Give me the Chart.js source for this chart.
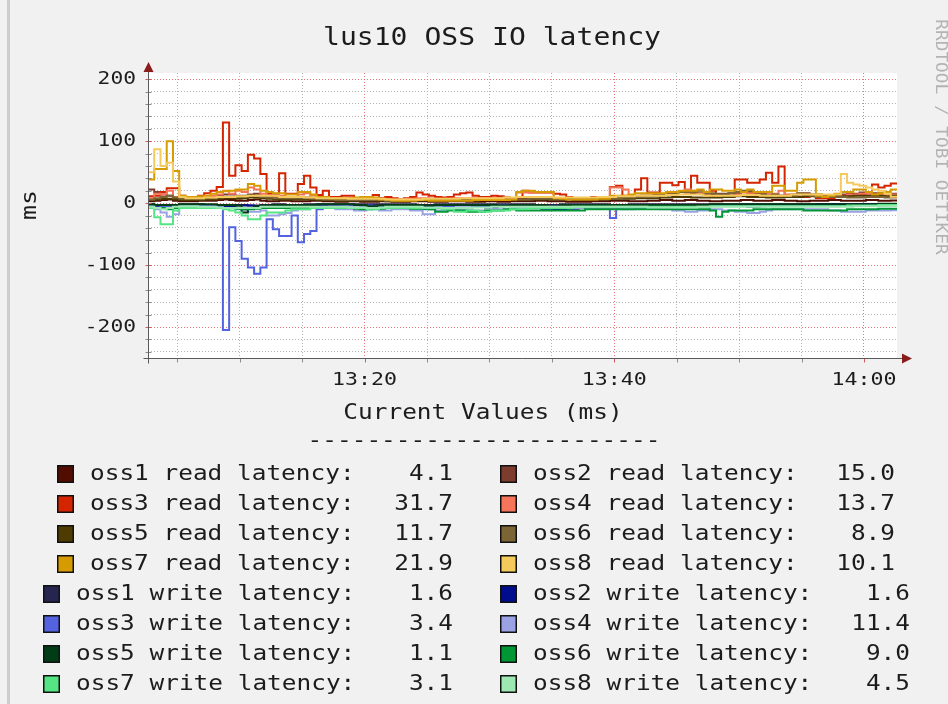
<!DOCTYPE html>
<html>
<head>
<meta charset="utf-8">
<title>lus10 OSS IO latency</title>
<script src="https://cdn.jsdelivr.net/npm/chart.js@4.4.1/dist/chart.umd.min.js"></script>
<style>
  html, body { margin: 0; padding: 0; background: #f1f1f1; }
  canvas { display: block; }
</style>
</head>
<body>
<canvas id="chart" width="948" height="704"></canvas>
<script>
// time axis: minutes after 13:00, one sample every 30 s
const startMinute = 2.65;
const stepMinute = 0.5;
const sampleCount = 120;
const xMin = 2.65;
const xMax = 62.65;
const yMin = -250;
const yMax = 210;

const xMinorMinutes = [5, 10, 15, 20, 25, 30, 35, 40, 45, 50, 55, 60];
const xMajorMinutes = [20, 40, 60];
const xTickLabels = ["13:20", "13:40", "14:00"];
const yMajorValues = [-200, -100, 0, 100, 200];
const yTickLabels = ["-200", "-100", "0", "100", "200"];
const yMinorStep = 20;

// read latencies (ms), plotted above zero
const oss1Read = [3,4,5,6,4,3,3,3,4,4, 4,5,6,5,4,4,5,6,4,3, 3,4,4,3,3,3,4,4,3,3, 2,2,3,3,2,2,2,3,3,2,
  2,2,3,3,3,2,2,2,3,3, 3,2,2,2,3,3,2,2,3,3, 3,3,4,4,3,3,3,2,2,2, 2,3,3,3,4,4,4,3,3,3,
  4,4,5,5,4,4,5,5,4,4, 3,3,4,4,4,5,5,4,4,4, 5,5,4,4,3,3,4,4,4,5, 5,4,4,4,4,5,5,4,4,4.1];
const oss2Read = [22,18,14,12,8,6,6,7,8,9, 10,12,14,14,12,12,14,15,12,10, 9,9,10,10,10,9,8,7,7,6, 6,6,6,7,7,6,6,6,5,5,
  5,5,6,6,6,7,7,6,6,6, 6,7,7,6,6,6,7,7,8,8, 8,8,8,9,9,8,8,8,7,7, 7,8,8,9,10,10,10,10,12,12,
  12,14,14,16,16,18,18,16,16,14, 14,15,15,16,16,18,18,16,16,14, 14,12,12,14,14,16,14,14,13,13, 14,14,15,15,17,17,16,16,15,15.0];
const oss3Read = [11,12,18,24,24,12,10,10,12,16, 20,26,130,44,61,52,78,72,47,15, 15,48,15,15,31,44,25,13,20,10, 10,12,12,7,7,7,13,8,10,8,
  6,8,10,17,14,12,10,9,10,14, 16,17,12,10,10,12,11,9,8,6, 20,17,17,17,17,15,14,10,8,8, 8,10,10,8,26,28,12,12,22,40,
  17,17,33,33,29,34,17,44,33,33, 20,10,12,12,38,38,33,33,38,49, 33,59,12,12,10,10,12,8,8,8, 11,12,12,14,14,16,30,25,28,31.7];
const oss4Read = [8,15,14,20,10,8,8,8,9,10, 12,14,20,15,20,18,25,22,15,12, 10,12,10,10,14,16,12,9,9,8, 7,7,7,6,6,6,6,6,6,6,
  6,7,7,8,8,7,7,7,7,8, 8,8,8,8,8,8,8,8,8,17, 17,17,17,17,17,8,8,7,7,7, 8,8,8,8,25,25,22,10,10,12,
  12,12,14,14,18,18,22,20,15,15, 10,10,12,12,14,14,16,14,14,14, 15,20,14,14,16,14,12,10,10,10, 12,12,14,14,15,15,14,14,14,13.7];
const oss5Read = [5,6,7,7,6,5,5,5,5,6, 6,7,8,8,7,8,9,9,8,7, 6,6,6,6,6,6,6,5,5,5, 4,4,4,4,4,4,4,4,3,3,
  3,3,4,4,4,4,4,4,4,4, 4,4,4,5,5,5,5,5,5,5, 5,6,6,6,6,6,6,6,5,5, 5,6,6,6,7,7,7,7,8,8,
  8,8,9,9,10,10,10,9,9,9, 9,9,10,10,11,11,10,10,10,9, 9,9,10,10,10,11,11,10,10,10, 11,11,11,12,12,12,12,12,11,11.7];
const oss6Read = [6,8,10,12,9,7,7,7,7,8, 8,9,10,10,10,11,12,12,10,9, 8,8,8,8,8,8,7,7,6,6, 5,5,5,5,5,5,5,5,4,4,
  4,4,5,5,5,5,5,5,5,5, 5,5,5,5,6,6,6,6,6,6, 6,7,7,7,7,7,7,7,6,6, 6,7,7,7,8,8,9,9,10,12,
  12,12,14,14,16,18,18,18,20,16, 16,14,14,16,18,20,20,18,14,12, 14,12,12,12,16,14,12,10,10,10, 10,10,9,9,9,10,10,10,9,8.9];
const oss7Read = [38,55,55,100,52,12,10,10,11,12, 15,18,19,20,22,22,31,28,20,18, 16,16,14,14,18,18,14,10,10,8, 8,8,8,9,10,10,9,6,6,4,
  4,4,4,5,5,4,4,4,4,4, 4,4,5,5,5,5,5,5,6,18, 20,20,18,18,18,8,7,6,6,6, 6,6,7,7,12,12,12,14,16,16,
  16,16,16,18,18,20,20,20,22,18, 22,22,20,20,22,18,22,18,18,18, 28,28,20,20,33,38,38,12,10,12, 15,18,18,22,22,18,14,16,18,21.9];
const oss8Read = [50,87,60,65,35,10,8,8,8,9, 9,10,10,10,11,11,12,12,12,12, 12,10,10,10,10,9,9,8,8,8, 8,8,7,7,7,7,7,7,6,6,
  6,6,6,6,7,7,7,7,7,7, 8,8,8,8,8,8,8,9,9,10, 10,10,10,10,10,9,9,9,9,9, 9,9,10,10,10,11,11,11,12,12,
  12,12,12,13,13,14,14,14,14,12, 12,12,12,12,12,13,13,13,12,12, 12,12,12,14,14,14,14,14,14,14, 14,47,33,30,28,25,22,20,15,10.1];

// write latencies (ms), plotted mirrored below zero
const oss1Write = [2,3,3,4,3,2,2,2,2,3, 3,3,4,4,3,3,4,4,3,3, 2,2,3,3,3,2,2,2,2,2, 2,2,2,2,2,2,2,2,2,2,
  2,2,2,3,3,3,2,2,2,2, 2,2,2,2,2,2,2,2,2,2, 2,2,3,3,3,3,2,2,2,2, 2,2,2,2,3,3,3,2,2,2,
  2,2,2,2,2,2,2,2,2,2, 2,2,2,2,2,2,2,2,2,2, 2,2,2,2,2,2,2,2,2,2, 2,2,2,2,2,2,2,2,2,1.6];
const oss2Write = [4,5,6,5,4,3,3,3,4,4, 4,5,5,5,4,4,4,5,6,6, 5,4,4,4,4,3,3,3,3,3, 3,3,3,3,4,4,6,6,4,4,
  3,3,4,4,5,5,4,4,3,3, 3,3,4,4,7,7,5,4,4,4, 4,5,6,9,9,10,10,9,9,8, 8,6,5,5,4,4,4,4,3,3,
  3,3,4,4,4,3,3,3,3,3, 3,3,3,3,4,4,6,6,5,4, 4,3,3,3,3,3,3,2,2,2, 2,2,2,2,2,2,2,2,2,1.6];
const oss3Write = [3,4,5,5,6,4,3,3,3,4, 5,5,205,39,61,90,104,114,104,26, 42,53,53,20,63,50,45,10,6,5, 5,4,4,4,4,4,5,5,4,4,
  4,4,5,5,10,10,6,5,5,4, 4,4,5,5,5,5,4,4,4,4, 5,5,5,5,5,5,4,4,4,4, 4,4,5,5,24,8,6,6,5,5,
  5,5,5,5,5,5,5,5,5,5, 4,4,4,4,4,4,4,4,4,4, 4,4,4,4,4,4,4,4,4,4, 4,4,4,4,4,4,4,4,4,3.4];
const oss4Write = [8,10,15,22,18,8,6,6,6,7, 7,8,8,8,10,12,14,14,12,20, 20,18,16,12,10,10,8,8,8,8, 10,10,10,12,12,10,10,12,12,10,
  10,10,12,12,18,18,12,12,10,10, 10,10,12,12,12,10,10,10,8,8, 8,8,8,8,8,8,8,8,8,8, 8,8,8,8,8,8,10,10,8,8,
  8,8,10,10,12,12,14,14,12,12, 10,10,12,12,14,14,16,16,14,12, 10,10,10,10,10,10,10,10,10,12, 12,14,14,14,14,12,12,12,12,11.4];
const oss5Write = [2,3,3,3,3,2,2,2,2,2, 2,3,3,3,4,15,8,5,4,4, 3,3,3,3,3,3,3,2,2,2, 2,2,2,3,3,5,5,4,3,3,
  3,3,3,3,4,4,3,3,3,3, 3,3,3,3,3,3,4,4,3,3, 3,3,3,3,5,5,3,3,3,3, 3,3,3,3,3,3,3,3,3,3,
  3,3,3,3,3,3,3,3,3,3, 2,2,2,2,2,2,2,2,2,2, 2,2,2,2,2,2,2,2,2,2, 2,2,2,2,2,2,2,1,1,1.1];
const oss6Write = [6,8,8,10,8,6,6,6,6,7, 7,8,8,8,9,10,10,9,8,8, 8,8,8,8,8,8,7,7,7,7, 8,8,8,9,10,10,9,9,8,8,
  8,8,9,9,9,10,14,14,12,12, 12,14,14,14,12,12,12,10,10,12, 12,12,12,12,12,12,12,12,12,12, 10,10,10,10,10,10,10,10,10,10,
  10,10,10,10,10,10,10,10,10,10, 12,22,14,12,12,12,12,10,10,10, 10,10,10,10,10,12,12,12,12,12, 12,12,10,10,10,10,10,9,9,9.0];
const oss7Write = [8,23,34,34,12,8,8,8,8,8, 8,8,10,12,15,20,26,26,20,15, 15,15,12,10,10,10,8,8,8,8, 8,8,8,8,8,10,10,8,8,8,
  8,8,8,8,8,8,8,10,10,14, 14,12,12,14,14,12,12,12,10,10, 10,8,8,8,8,8,8,8,6,6, 6,6,6,6,6,6,6,6,6,6,
  6,6,6,6,6,6,6,6,6,6, 5,5,5,5,5,5,5,5,5,5, 5,5,5,5,5,5,5,5,5,5, 5,5,4,4,4,4,4,3,3,3.1];
const oss8Write = [6,8,10,8,6,5,5,5,6,6, 6,7,8,8,8,8,8,8,6,6, 6,6,6,6,6,6,6,6,6,6, 6,6,7,7,7,8,8,7,6,6,
  6,6,6,6,7,7,7,8,8,8, 8,8,7,7,7,6,6,6,6,6, 6,6,6,6,6,6,6,6,6,6, 6,6,6,6,6,6,6,6,6,6,
  7,7,7,7,7,7,7,7,6,6, 6,6,6,6,6,6,6,6,6,6, 6,6,6,6,6,6,6,6,6,6, 6,6,6,5,5,5,5,5,5,4.5];

const seriesNames = [
  "oss1 read latency", "oss2 read latency", "oss3 read latency", "oss4 read latency",
  "oss5 read latency", "oss6 read latency", "oss7 read latency", "oss8 read latency",
  "oss1 write latency", "oss2 write latency", "oss3 write latency", "oss4 write latency",
  "oss5 write latency", "oss6 write latency", "oss7 write latency", "oss8 write latency"
];
const seriesValues = [
  oss1Read, oss2Read, oss3Read, oss4Read, oss5Read, oss6Read, oss7Read, oss8Read,
  oss1Write, oss2Write, oss3Write, oss4Write, oss5Write, oss6Write, oss7Write, oss8Write
];
const seriesMirrored = [false, false, false, false, false, false, false, false,
  true, true, true, true, true, true, true, true];
const seriesColors = [
  "#520c00", "#7c3c2e", "#d42400", "#f5745a", "#4e3b00", "#7c6534", "#d69b00", "#f4ca5c",
  "#25254f", "#000c8e", "#5363e0", "#9ba2e4", "#003c16", "#009634", "#55e585", "#9ee6b2"
];
// legend rows: [left column series, right column series]
const legendRows = [[0, 1], [2, 3], [4, 5], [6, 7], [8, 9], [10, 11], [12, 13], [14, 15]];

const times = [];
for (let i = 0; i <= sampleCount; i++) times.push(startMinute + i * stepMinute);

const datasets = seriesValues.map((vals, k) => {
  const plotted = seriesMirrored[k] ? vals.map(v => -v) : vals.slice();
  plotted.push(plotted[plotted.length - 1]);
  return {
    label: seriesNames[k],
    data: plotted,
    borderColor: seriesColors[k],
    borderWidth: 2,
    pointRadius: 0,
    stepped: "before",
    fill: false,
    order: seriesValues.length - k,
  };
});

const FONT = '"DejaVu Sans Mono", "Liberation Mono", monospace';

function drawText(ctx, str, x, y, size, advance, align, color) {
  ctx.save();
  ctx.font = size + "px " + FONT;
  const stretch = advance / ctx.measureText("0").width;
  ctx.translate(x, y);
  ctx.scale(stretch, 1);
  ctx.textAlign = align;
  ctx.textBaseline = "middle";
  ctx.fillStyle = color || "#1c1c1c";
  ctx.fillText(str, 0, 0);
  ctx.restore();
}

const rrdFrame = {
  id: "rrdFrame",
  beforeDraw(chart) {
    const { ctx, chartArea: a } = chart;
    ctx.save();
    ctx.fillStyle = "#f1f1f1";
    ctx.fillRect(0, 0, chart.width, chart.height);
    ctx.fillStyle = "#cdcdcd";
    ctx.fillRect(7, 0, 3, chart.height);
    ctx.fillStyle = "#ffffff";
    ctx.fillRect(a.left, a.top, a.right - a.left, a.bottom - a.top);
    ctx.restore();
  },
  afterDraw(chart) {
    const { ctx, chartArea: a } = chart;
    const xs = chart.scales.x;
    const ys = chart.scales.y;
    const axisX = Math.round(a.left) + 0.5;
    const axisY = Math.round(a.bottom) + 0.5;

    ctx.save();
    // tick marks
    ctx.lineWidth = 1;
    for (let v = -240; v <= 200; v += yMinorStep) {
      const py = Math.round(ys.getPixelForValue(v)) + 0.5;
      ctx.strokeStyle = v % 100 === 0 ? "#d45a5a" : "#8c8c8c";
      ctx.beginPath();
      ctx.moveTo(axisX - 3, py);
      ctx.lineTo(axisX + 3, py);
      ctx.stroke();
    }
    xMinorMinutes.forEach(m => {
      const px = Math.round(xs.getPixelForValue(m)) + 0.5;
      ctx.strokeStyle = xMajorMinutes.includes(m) ? "#d45a5a" : "#8c8c8c";
      ctx.beginPath();
      ctx.moveTo(px, axisY);
      ctx.lineTo(px, axisY + 4);
      ctx.stroke();
    });

    // axes
    ctx.strokeStyle = "#5a5a5a";
    ctx.beginPath();
    ctx.moveTo(axisX, axisY + 5);
    ctx.lineTo(axisX, a.top - 2);
    ctx.moveTo(axisX - 5, axisY);
    ctx.lineTo(a.right + 5, axisY);
    ctx.stroke();
    ctx.fillStyle = "#8a1c1c";
    ctx.beginPath();
    ctx.moveTo(axisX - 5, a.top - 1);
    ctx.lineTo(axisX + 5, a.top - 1);
    ctx.lineTo(axisX, a.top - 11);
    ctx.closePath();
    ctx.fill();
    ctx.beginPath();
    ctx.moveTo(a.right + 5, axisY - 5);
    ctx.lineTo(a.right + 5, axisY + 5);
    ctx.lineTo(a.right + 15, axisY);
    ctx.closePath();
    ctx.fill();
    ctx.restore();

    // axis labels
    yMajorValues.forEach((v, k) => {
      drawText(ctx, yTickLabels[k], 136, ys.getPixelForValue(v), 18, 12.8, "right");
    });
    xMajorMinutes.forEach((m, k) => {
      drawText(ctx, xTickLabels[k], xs.getPixelForValue(m), 380, 18, 13, "center");
    });

    // title and texts
    drawText(ctx, "lus10 OSS IO latency", 492, 38, 25, 16.9, "center");
    drawText(ctx, "Current Values (ms)", 483, 413, 22, 14.7, "center");
    drawText(ctx, "------------------------", 484, 441, 22, 14.7, "center");

    ctx.save();
    ctx.translate(30, 205);
    ctx.rotate(-Math.PI / 2);
    drawText(ctx, "ms", 0, 0, 22, 15, "center");
    ctx.restore();

    ctx.save();
    ctx.translate(940, 137);
    ctx.rotate(Math.PI / 2);
    drawText(ctx, "RRDTOOL / TOBI OETIKER", 0, 0, 15, 10.7, "center", "#b3b3b3");
    ctx.restore();

    // legend
    legendRows.forEach((row, r) => {
      const y = 474 + 30 * r;
      row.forEach((k, col) => {
        const isWrite = seriesMirrored[k];
        let boxX, textX, valueRight;
        if (col === 0) {
          boxX = isWrite ? 43 : 57;
          textX = isWrite ? 76 : 90;
          valueRight = 453;
        } else {
          boxX = 500;
          textX = 533;
          valueRight = isWrite ? 910 : 895;
        }
        ctx.save();
        ctx.fillStyle = seriesColors[k];
        ctx.fillRect(boxX, y - 9, 17, 18);
        ctx.strokeStyle = "#111111";
        ctx.lineWidth = 1.5;
        ctx.strokeRect(boxX + 0.75, y - 8.25, 15.5, 16.5);
        ctx.restore();
        const vals = seriesValues[k];
        drawText(ctx, seriesNames[k] + ":", textX, y, 22, 14.7, "left");
        drawText(ctx, vals[vals.length - 1].toFixed(1), valueRight, y, 22, 14.7, "right");
      });
    });
  }
};

function gridColor(ctx, isMajor) {
  return isMajor(ctx.tick.value) ? "rgba(232, 96, 96, 0.85)" : "rgba(170, 170, 170, 0.9)";
}

new Chart(document.getElementById("chart"), {
  type: "line",
  data: { labels: times, datasets: datasets },
  options: {
    responsive: false,
    animation: false,
    events: [],
    layout: { padding: { left: 148, top: 73, right: 51, bottom: 346 } },
    plugins: { legend: { display: false }, tooltip: { enabled: false } },
    scales: {
      x: {
        type: "linear",
        min: xMin,
        max: xMax,
        afterBuildTicks: s => { s.ticks = xMinorMinutes.map(v => ({ value: v })); },
        ticks: { display: false },
        grid: { drawTicks: false, lineWidth: 1, color: c => gridColor(c, v => xMajorMinutes.includes(v)) },
        border: { display: false, dash: [1, 2] }
      },
      y: {
        type: "linear",
        min: yMin,
        max: yMax,
        afterBuildTicks: s => {
          const t = [];
          for (let v = -240; v <= 200; v += yMinorStep) t.push({ value: v });
          s.ticks = t;
        },
        ticks: { display: false },
        grid: { drawTicks: false, lineWidth: 1, color: c => gridColor(c, v => v % 100 === 0) },
        border: { display: false, dash: [1, 2] }
      }
    }
  },
  plugins: [rrdFrame]
});
</script>
</body>
</html>
